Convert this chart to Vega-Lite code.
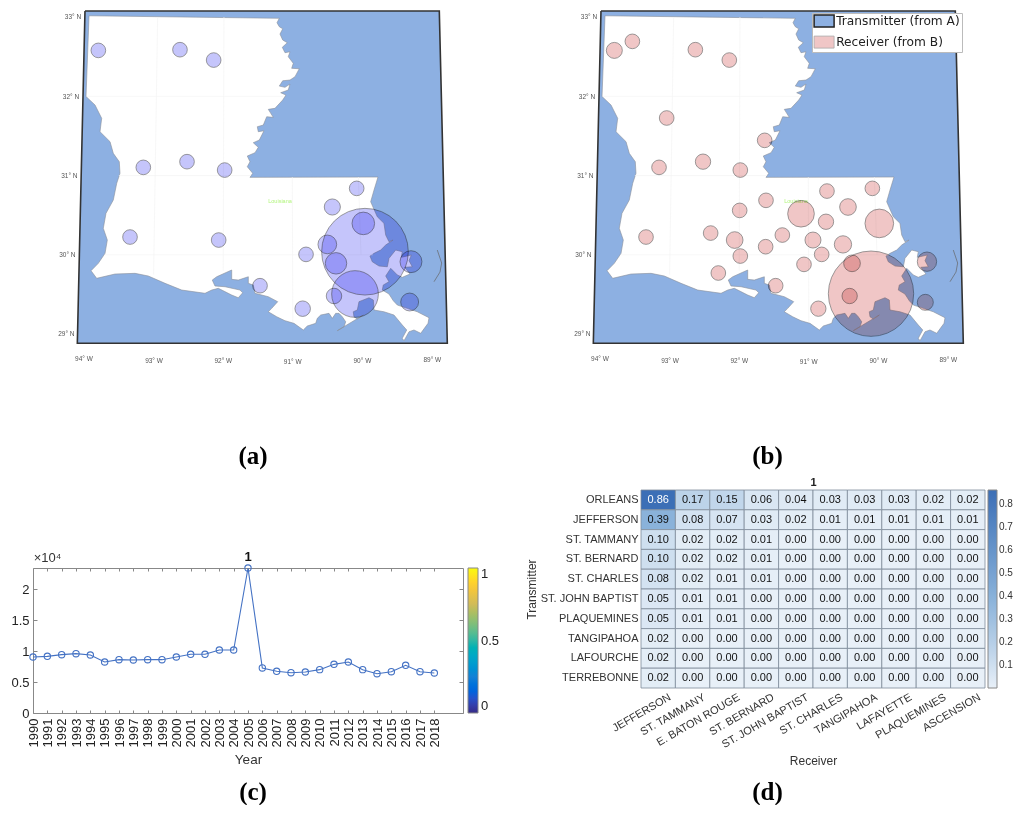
{"$schema":"https://vega.github.io/schema/vega-lite/v6.json","padding":0,"background":"white","bounds":"flush","spacing":0,"columns":2,"config":{"view":{"stroke":null},"font":"Liberation Sans"},
"datasets":{
"frame":[{"i":0,"lon":-93.986,"lat":33.076},{"i":1,"lon":-88.895,"lat":33.076},{"i":2,"lon":-88.78,"lat":28.883},{"i":3,"lon":-94.096,"lat":28.883},{"i":4,"lon":-93.986,"lat":33.076}],
"state":[{"i":0,"lon":-93.928,"lat":33.016},{"i":1,"lon":-91.194,"lat":32.984},{"i":2,"lon":-91.227,"lat":32.928},{"i":3,"lon":-91.194,"lat":32.878},{"i":4,"lon":-91.145,"lat":32.852},{"i":5,"lon":-91.184,"lat":32.785},{"i":6,"lon":-91.145,"lat":32.71},{"i":7,"lon":-91.079,"lat":32.676},{"i":8,"lon":-91.151,"lat":32.618},{"i":9,"lon":-91.112,"lat":32.55},{"i":10,"lon":-91.04,"lat":32.562},{"i":11,"lon":-91.065,"lat":32.499},{"i":12,"lon":-90.993,"lat":32.416},{"i":13,"lon":-91.016,"lat":32.353},{"i":14,"lon":-90.907,"lat":32.348},{"i":15,"lon":-90.968,"lat":32.247},{"i":16,"lon":-91.04,"lat":32.205},{"i":17,"lon":-91.145,"lat":32.196},{"i":18,"lon":-91.194,"lat":32.129},{"i":19,"lon":-91.112,"lat":32.113},{"i":20,"lon":-91.04,"lat":32.155},{"i":21,"lon":-91.065,"lat":32.079},{"i":22,"lon":-91.174,"lat":32.045},{"i":23,"lon":-91.098,"lat":32.016},{"i":24,"lon":-91.145,"lat":31.953},{"i":25,"lon":-91.256,"lat":31.848},{"i":26,"lon":-91.352,"lat":31.835},{"i":27,"lon":-91.28,"lat":31.734},{"i":28,"lon":-91.375,"lat":31.742},{"i":29,"lon":-91.424,"lat":31.637},{"i":30,"lon":-91.51,"lat":31.616},{"i":31,"lon":-91.496,"lat":31.553},{"i":32,"lon":-91.414,"lat":31.565},{"i":33,"lon":-91.481,"lat":31.448},{"i":34,"lon":-91.568,"lat":31.414},{"i":35,"lon":-91.496,"lat":31.356},{"i":36,"lon":-91.543,"lat":31.288},{"i":37,"lon":-91.654,"lat":31.246},{"i":38,"lon":-91.615,"lat":31.174},{"i":39,"lon":-91.654,"lat":31.111},{"i":40,"lon":-91.576,"lat":31.028},{"i":41,"lon":-91.615,"lat":30.977},{"i":42,"lon":-89.776,"lat":30.981},{"i":43,"lon":-89.833,"lat":30.817},{"i":44,"lon":-89.881,"lat":30.669},{"i":45,"lon":-89.786,"lat":30.48},{"i":46,"lon":-89.69,"lat":30.397},{"i":47,"lon":-89.665,"lat":30.249},{"i":48,"lon":-89.618,"lat":30.165},{"i":49,"lon":-89.56,"lat":30.186},{"i":50,"lon":-89.665,"lat":30.123},{"i":51,"lon":-89.737,"lat":30.06},{"i":52,"lon":-89.833,"lat":30.018},{"i":53,"lon":-89.891,"lat":29.984},{"i":54,"lon":-89.858,"lat":29.912},{"i":55,"lon":-89.761,"lat":29.858},{"i":56,"lon":-89.642,"lat":29.849},{"i":57,"lon":-89.618,"lat":29.955},{"i":58,"lon":-89.522,"lat":30.06},{"i":59,"lon":-89.427,"lat":30.039},{"i":60,"lon":-89.441,"lat":29.968},{"i":61,"lon":-89.297,"lat":29.997},{"i":62,"lon":-89.33,"lat":29.925},{"i":63,"lon":-89.283,"lat":29.849},{"i":64,"lon":-89.392,"lat":29.842},{"i":65,"lon":-89.316,"lat":29.757},{"i":66,"lon":-89.427,"lat":29.716},{"i":67,"lon":-89.498,"lat":29.745},{"i":68,"lon":-89.593,"lat":29.829},{"i":69,"lon":-89.665,"lat":29.732},{"i":70,"lon":-89.618,"lat":29.66},{"i":71,"lon":-89.7,"lat":29.618},{"i":72,"lon":-89.714,"lat":29.555},{"i":73,"lon":-89.618,"lat":29.505},{"i":74,"lon":-89.556,"lat":29.42},{"i":75,"lon":-89.498,"lat":29.366},{"i":76,"lon":-89.355,"lat":29.324},{"i":77,"lon":-89.211,"lat":29.281},{"i":78,"lon":-89.043,"lat":29.206},{"i":79,"lon":-89.057,"lat":29.135},{"i":80,"lon":-89.162,"lat":29.009},{"i":81,"lon":-89.259,"lat":29.051},{"i":82,"lon":-89.33,"lat":29.029},{"i":83,"lon":-89.402,"lat":28.916},{"i":84,"lon":-89.427,"lat":28.946},{"i":85,"lon":-89.363,"lat":29.051},{"i":86,"lon":-89.427,"lat":29.114},{"i":87,"lon":-89.546,"lat":29.24},{"i":88,"lon":-89.69,"lat":29.281},{"i":89,"lon":-89.833,"lat":29.303},{"i":90,"lon":-89.843,"lat":29.429},{"i":91,"lon":-89.905,"lat":29.458},{"i":92,"lon":-90.049,"lat":29.408},{"i":93,"lon":-90.073,"lat":29.303},{"i":94,"lon":-90.131,"lat":29.281},{"i":95,"lon":-90.121,"lat":29.218},{"i":96,"lon":-90.073,"lat":29.189},{"i":97,"lon":-89.987,"lat":29.24},{"i":98,"lon":-90.361,"lat":29.042},{"i":99,"lon":-90.264,"lat":29.092},{"i":100,"lon":-90.24,"lat":29.155},{"i":101,"lon":-90.289,"lat":29.218},{"i":102,"lon":-90.336,"lat":29.261},{"i":103,"lon":-90.384,"lat":29.261},{"i":104,"lon":-90.432,"lat":29.198},{"i":105,"lon":-90.48,"lat":29.261},{"i":106,"lon":-90.599,"lat":29.24},{"i":107,"lon":-90.648,"lat":29.198},{"i":108,"lon":-90.671,"lat":29.135},{"i":109,"lon":-90.792,"lat":29.101},{"i":110,"lon":-90.849,"lat":29.051},{"i":111,"lon":-90.983,"lat":29.135},{"i":112,"lon":-91.112,"lat":29.168},{"i":113,"lon":-91.231,"lat":29.218},{"i":114,"lon":-91.352,"lat":29.281},{"i":115,"lon":-91.303,"lat":29.324},{"i":116,"lon":-91.217,"lat":29.408},{"i":117,"lon":-91.352,"lat":29.471},{"i":118,"lon":-91.543,"lat":29.514},{"i":119,"lon":-91.568,"lat":29.618},{"i":120,"lon":-91.639,"lat":29.64},{"i":121,"lon":-91.639,"lat":29.723},{"i":122,"lon":-91.783,"lat":29.681},{"i":123,"lon":-91.878,"lat":29.69},{"i":124,"lon":-91.878,"lat":29.808},{"i":125,"lon":-92.093,"lat":29.723},{"i":126,"lon":-92.157,"lat":29.681},{"i":127,"lon":-92.118,"lat":29.606},{"i":128,"lon":-91.974,"lat":29.597},{"i":129,"lon":-91.759,"lat":29.555},{"i":130,"lon":-91.72,"lat":29.521},{"i":131,"lon":-91.783,"lat":29.458},{"i":132,"lon":-91.878,"lat":29.492},{"i":133,"lon":-92.07,"lat":29.577},{"i":134,"lon":-92.165,"lat":29.555},{"i":135,"lon":-92.261,"lat":29.514},{"i":136,"lon":-92.596,"lat":29.555},{"i":137,"lon":-92.836,"lat":29.64},{"i":138,"lon":-93.076,"lat":29.732},{"i":139,"lon":-93.267,"lat":29.766},{"i":140,"lon":-93.555,"lat":29.757},{"i":141,"lon":-93.818,"lat":29.703},{"i":142,"lon":-93.899,"lat":29.799},{"i":143,"lon":-93.795,"lat":29.892},{"i":144,"lon":-93.698,"lat":30.018},{"i":145,"lon":-93.665,"lat":30.186},{"i":146,"lon":-93.723,"lat":30.334},{"i":147,"lon":-93.684,"lat":30.523},{"i":148,"lon":-93.579,"lat":30.691},{"i":149,"lon":-93.53,"lat":30.902},{"i":150,"lon":-93.483,"lat":31.028},{"i":151,"lon":-93.493,"lat":31.174},{"i":152,"lon":-93.579,"lat":31.28},{"i":153,"lon":-93.626,"lat":31.427},{"i":154,"lon":-93.77,"lat":31.553},{"i":155,"lon":-93.746,"lat":31.722},{"i":156,"lon":-93.842,"lat":31.89},{"i":157,"lon":-93.971,"lat":31.997},{"i":158,"lon":-93.928,"lat":33.016}],
"arc":[{"i":0,"lon":-88.924,"lat":30.06},{"i":1,"lon":-88.861,"lat":29.896},{"i":2,"lon":-88.885,"lat":29.782},{"i":3,"lon":-88.971,"lat":29.66}],
"grid":[{"g":"m93","i":0,"lon":-92.942,"lat":33.0},{"g":"m93","i":1,"lon":-93.0,"lat":29.75},{"g":"m92","i":0,"lon":-91.989,"lat":33.0},{"g":"m92","i":1,"lon":-92.0,"lat":29.8},{"g":"m91","i":0,"lon":-91.007,"lat":30.98},{"g":"m91","i":1,"lon":-91.0,"lat":29.15},{"g":"m90","i":0,"lon":-90.058,"lat":30.98},{"g":"m90","i":1,"lon":-90.02,"lat":30.0},{"g":"p32","i":0,"lon":-93.96,"lat":32.0},{"g":"p32","i":1,"lon":-91.14,"lat":32.0},{"g":"p31","i":0,"lon":-93.5,"lat":31.0},{"g":"p31","i":1,"lon":-91.6,"lat":31.0},{"g":"p30","i":0,"lon":-93.7,"lat":30.0},{"g":"p30","i":1,"lon":-89.85,"lat":30.0}],
"ticks":[{"t":"33° N","lon":-94.158,"lat":33.0},{"t":"32° N","lon":-94.187,"lat":31.995},{"t":"31° N","lon":-94.211,"lat":30.998},{"t":"30° N","lon":-94.239,"lat":29.997},{"t":"29° N","lon":-94.254,"lat":29.0},{"t":"94° W","lon":-94.0,"lat":28.68},{"t":"93° W","lon":-92.994,"lat":28.664},{"t":"92° W","lon":-91.998,"lat":28.655},{"t":"91° W","lon":-91.002,"lat":28.651},{"t":"90° W","lon":-90.0,"lat":28.659},{"t":"89° W","lon":-88.995,"lat":28.672}],
"place":[{"t":"Louisiana","lon":-91.184,"lat":30.682}],
"transmit":[{"lon":-93.794,"lat":32.579,"v":0.0215},{"lon":-92.621,"lat":32.588,"v":0.0215},{"lon":-92.137,"lat":32.457,"v":0.0215},{"lon":-93.148,"lat":31.103,"v":0.0215},{"lon":-92.52,"lat":31.175,"v":0.0215},{"lon":-91.979,"lat":31.069,"v":0.0215},{"lon":-90.082,"lat":30.838,"v":0.0215},{"lon":-90.432,"lat":30.603,"v":0.026},{"lon":-89.987,"lat":30.396,"v":0.051},{"lon":-93.339,"lat":30.224,"v":0.0215},{"lon":-92.065,"lat":30.186,"v":0.0215},{"lon":-90.504,"lat":30.131,"v":0.035},{"lon":-90.81,"lat":30.005,"v":0.0215},{"lon":-90.379,"lat":29.892,"v":0.046},{"lon":-89.963,"lat":30.039,"v":0.751},{"lon":-90.106,"lat":29.505,"v":0.218},{"lon":-90.408,"lat":29.48,"v":0.024},{"lon":-91.471,"lat":29.61,"v":0.0215},{"lon":-90.858,"lat":29.32,"v":0.024},{"lon":-89.302,"lat":29.913,"v":0.048},{"lon":-89.321,"lat":29.404,"v":0.032}],
"receive":[{"lon":-93.794,"lat":32.579,"v":0.0256},{"lon":-93.535,"lat":32.693,"v":0.0215},{"lon":-92.63,"lat":32.588,"v":0.0215},{"lon":-92.142,"lat":32.457,"v":0.0215},{"lon":-93.042,"lat":31.726,"v":0.0215},{"lon":-91.634,"lat":31.444,"v":0.0215},{"lon":-93.152,"lat":31.103,"v":0.0215},{"lon":-92.52,"lat":31.175,"v":0.0235},{"lon":-91.984,"lat":31.069,"v":0.0215},{"lon":-90.739,"lat":30.804,"v":0.0215},{"lon":-90.087,"lat":30.838,"v":0.0215},{"lon":-91.615,"lat":30.687,"v":0.0215},{"lon":-91.993,"lat":30.56,"v":0.0215},{"lon":-91.112,"lat":30.518,"v":0.0711},{"lon":-90.437,"lat":30.603,"v":0.0278},{"lon":-90.753,"lat":30.417,"v":0.0235},{"lon":-89.987,"lat":30.396,"v":0.0822},{"lon":-93.339,"lat":30.224,"v":0.0215},{"lon":-92.41,"lat":30.274,"v":0.0215},{"lon":-91.38,"lat":30.249,"v":0.0215},{"lon":-92.065,"lat":30.186,"v":0.0278},{"lon":-90.94,"lat":30.186,"v":0.0256},{"lon":-90.509,"lat":30.131,"v":0.03},{"lon":-91.62,"lat":30.102,"v":0.0215},{"lon":-91.984,"lat":29.984,"v":0.0215},{"lon":-90.815,"lat":30.005,"v":0.0215},{"lon":-91.069,"lat":29.879,"v":0.0215},{"lon":-92.3,"lat":29.77,"v":0.0215},{"lon":-91.476,"lat":29.61,"v":0.0215},{"lon":-90.863,"lat":29.32,"v":0.0235},{"lon":-90.106,"lat":29.509,"v":0.728},{"lon":-90.379,"lat":29.892,"v":0.0278},{"lon":-90.413,"lat":29.48,"v":0.0235},{"lon":-89.302,"lat":29.913,"v":0.0374},{"lon":-89.326,"lat":29.4,"v":0.0256}],
"series":[{"series":"Transmitter (from A)"},{"series":"Receiver (from B)"}],
"peak":[{"year":2005,"value":23450,"label":"1"}],
"yearly":[{"year":1990,"value":9056,"share":0.39},{"year":1991,"value":9164,"share":0.39},{"year":1992,"value":9434,"share":0.4},{"year":1993,"value":9596,"share":0.41},{"year":1994,"value":9380,"share":0.4},{"year":1995,"value":8248,"share":0.35},{"year":1996,"value":8625,"share":0.37},{"year":1997,"value":8570,"share":0.37},{"year":1998,"value":8625,"share":0.37},{"year":1999,"value":8625,"share":0.37},{"year":2000,"value":9056,"share":0.39},{"year":2001,"value":9490,"share":0.4},{"year":2002,"value":9490,"share":0.4},{"year":2003,"value":10190,"share":0.43},{"year":2004,"value":10190,"share":0.43},{"year":2005,"value":23450,"share":1},{"year":2006,"value":7280,"share":0.31},{"year":2007,"value":6740,"share":0.29},{"year":2008,"value":6520,"share":0.28},{"year":2009,"value":6630,"share":0.28},{"year":2010,"value":7010,"share":0.3},{"year":2011,"value":7870,"share":0.34},{"year":2012,"value":8250,"share":0.35},{"year":2013,"value":7010,"share":0.3},{"year":2014,"value":6360,"share":0.27},{"year":2015,"value":6680,"share":0.28},{"year":2016,"value":7710,"share":0.33},{"year":2017,"value":6680,"share":0.28},{"year":2018,"value":6470,"share":0.28}],
"matrix":[{"t":"ORLEANS","r":"JEFFERSON","v":0.86},{"t":"ORLEANS","r":"ST. TAMMANY","v":0.17},{"t":"ORLEANS","r":"E. BATON ROUGE","v":0.15},{"t":"ORLEANS","r":"ST. BERNARD","v":0.06},{"t":"ORLEANS","r":"ST. JOHN BAPTIST","v":0.04},{"t":"ORLEANS","r":"ST. CHARLES","v":0.03},{"t":"ORLEANS","r":"TANGIPAHOA","v":0.03},{"t":"ORLEANS","r":"LAFAYETTE","v":0.03},{"t":"ORLEANS","r":"PLAQUEMINES","v":0.02},{"t":"ORLEANS","r":"ASCENSION","v":0.02},
{"t":"JEFFERSON","r":"JEFFERSON","v":0.39},{"t":"JEFFERSON","r":"ST. TAMMANY","v":0.08},{"t":"JEFFERSON","r":"E. BATON ROUGE","v":0.07},{"t":"JEFFERSON","r":"ST. BERNARD","v":0.03},{"t":"JEFFERSON","r":"ST. JOHN BAPTIST","v":0.02},{"t":"JEFFERSON","r":"ST. CHARLES","v":0.01},{"t":"JEFFERSON","r":"TANGIPAHOA","v":0.01},{"t":"JEFFERSON","r":"LAFAYETTE","v":0.01},{"t":"JEFFERSON","r":"PLAQUEMINES","v":0.01},{"t":"JEFFERSON","r":"ASCENSION","v":0.01},
{"t":"ST. TAMMANY","r":"JEFFERSON","v":0.10},{"t":"ST. TAMMANY","r":"ST. TAMMANY","v":0.02},{"t":"ST. TAMMANY","r":"E. BATON ROUGE","v":0.02},{"t":"ST. TAMMANY","r":"ST. BERNARD","v":0.01},{"t":"ST. TAMMANY","r":"ST. JOHN BAPTIST","v":0},{"t":"ST. TAMMANY","r":"ST. CHARLES","v":0},{"t":"ST. TAMMANY","r":"TANGIPAHOA","v":0},{"t":"ST. TAMMANY","r":"LAFAYETTE","v":0},{"t":"ST. TAMMANY","r":"PLAQUEMINES","v":0},{"t":"ST. TAMMANY","r":"ASCENSION","v":0},
{"t":"ST. BERNARD","r":"JEFFERSON","v":0.10},{"t":"ST. BERNARD","r":"ST. TAMMANY","v":0.02},{"t":"ST. BERNARD","r":"E. BATON ROUGE","v":0.02},{"t":"ST. BERNARD","r":"ST. BERNARD","v":0.01},{"t":"ST. BERNARD","r":"ST. JOHN BAPTIST","v":0},{"t":"ST. BERNARD","r":"ST. CHARLES","v":0},{"t":"ST. BERNARD","r":"TANGIPAHOA","v":0},{"t":"ST. BERNARD","r":"LAFAYETTE","v":0},{"t":"ST. BERNARD","r":"PLAQUEMINES","v":0},{"t":"ST. BERNARD","r":"ASCENSION","v":0},
{"t":"ST. CHARLES","r":"JEFFERSON","v":0.08},{"t":"ST. CHARLES","r":"ST. TAMMANY","v":0.02},{"t":"ST. CHARLES","r":"E. BATON ROUGE","v":0.01},{"t":"ST. CHARLES","r":"ST. BERNARD","v":0.01},{"t":"ST. CHARLES","r":"ST. JOHN BAPTIST","v":0},{"t":"ST. CHARLES","r":"ST. CHARLES","v":0},{"t":"ST. CHARLES","r":"TANGIPAHOA","v":0},{"t":"ST. CHARLES","r":"LAFAYETTE","v":0},{"t":"ST. CHARLES","r":"PLAQUEMINES","v":0},{"t":"ST. CHARLES","r":"ASCENSION","v":0},
{"t":"ST. JOHN BAPTIST","r":"JEFFERSON","v":0.05},{"t":"ST. JOHN BAPTIST","r":"ST. TAMMANY","v":0.01},{"t":"ST. JOHN BAPTIST","r":"E. BATON ROUGE","v":0.01},{"t":"ST. JOHN BAPTIST","r":"ST. BERNARD","v":0},{"t":"ST. JOHN BAPTIST","r":"ST. JOHN BAPTIST","v":0},{"t":"ST. JOHN BAPTIST","r":"ST. CHARLES","v":0},{"t":"ST. JOHN BAPTIST","r":"TANGIPAHOA","v":0},{"t":"ST. JOHN BAPTIST","r":"LAFAYETTE","v":0},{"t":"ST. JOHN BAPTIST","r":"PLAQUEMINES","v":0},{"t":"ST. JOHN BAPTIST","r":"ASCENSION","v":0},
{"t":"PLAQUEMINES","r":"JEFFERSON","v":0.05},{"t":"PLAQUEMINES","r":"ST. TAMMANY","v":0.01},{"t":"PLAQUEMINES","r":"E. BATON ROUGE","v":0.01},{"t":"PLAQUEMINES","r":"ST. BERNARD","v":0},{"t":"PLAQUEMINES","r":"ST. JOHN BAPTIST","v":0},{"t":"PLAQUEMINES","r":"ST. CHARLES","v":0},{"t":"PLAQUEMINES","r":"TANGIPAHOA","v":0},{"t":"PLAQUEMINES","r":"LAFAYETTE","v":0},{"t":"PLAQUEMINES","r":"PLAQUEMINES","v":0},{"t":"PLAQUEMINES","r":"ASCENSION","v":0},
{"t":"TANGIPAHOA","r":"JEFFERSON","v":0.02},{"t":"TANGIPAHOA","r":"ST. TAMMANY","v":0},{"t":"TANGIPAHOA","r":"E. BATON ROUGE","v":0},{"t":"TANGIPAHOA","r":"ST. BERNARD","v":0},{"t":"TANGIPAHOA","r":"ST. JOHN BAPTIST","v":0},{"t":"TANGIPAHOA","r":"ST. CHARLES","v":0},{"t":"TANGIPAHOA","r":"TANGIPAHOA","v":0},{"t":"TANGIPAHOA","r":"LAFAYETTE","v":0},{"t":"TANGIPAHOA","r":"PLAQUEMINES","v":0},{"t":"TANGIPAHOA","r":"ASCENSION","v":0},
{"t":"LAFOURCHE","r":"JEFFERSON","v":0.02},{"t":"LAFOURCHE","r":"ST. TAMMANY","v":0},{"t":"LAFOURCHE","r":"E. BATON ROUGE","v":0},{"t":"LAFOURCHE","r":"ST. BERNARD","v":0},{"t":"LAFOURCHE","r":"ST. JOHN BAPTIST","v":0},{"t":"LAFOURCHE","r":"ST. CHARLES","v":0},{"t":"LAFOURCHE","r":"TANGIPAHOA","v":0},{"t":"LAFOURCHE","r":"LAFAYETTE","v":0},{"t":"LAFOURCHE","r":"PLAQUEMINES","v":0},{"t":"LAFOURCHE","r":"ASCENSION","v":0},
{"t":"TERREBONNE","r":"JEFFERSON","v":0.02},{"t":"TERREBONNE","r":"ST. TAMMANY","v":0},{"t":"TERREBONNE","r":"E. BATON ROUGE","v":0},{"t":"TERREBONNE","r":"ST. BERNARD","v":0},{"t":"TERREBONNE","r":"ST. JOHN BAPTIST","v":0},{"t":"TERREBONNE","r":"ST. CHARLES","v":0},{"t":"TERREBONNE","r":"TANGIPAHOA","v":0},{"t":"TERREBONNE","r":"LAFAYETTE","v":0},{"t":"TERREBONNE","r":"PLAQUEMINES","v":0},{"t":"TERREBONNE","r":"ASCENSION","v":0}]
},
"concat":[
{"width":516,"height":490,
 "title":{"text":"(a)","orient":"bottom","font":"Liberation Serif","fontWeight":"bold","fontSize":25,"color":"#000","offset":-46,"dx":-5},
 "encoding":{"x":{"field":"lon","type":"quantitative","axis":null,"scale":{"domain":[-95.207,-87.793],"nice":false,"zero":false}},"y":{"field":"lat","type":"quantitative","axis":null,"scale":{"domain":[27.032,33.215],"nice":false,"zero":false}}},
 "layer":[
 {"data":{"name":"frame"},"mark":{"type":"line","fill":"#8db0e2","stroke":"#333","strokeWidth":1.6},"encoding":{"order":{"field":"i"}}},
 {"data":{"name":"state"},"mark":{"type":"line","fill":"#ffffff","stroke":"#8a8f99","strokeWidth":0.6},"encoding":{"order":{"field":"i"}}},
 {"data":{"name":"arc"},"mark":{"type":"line","stroke":"#666","strokeWidth":0.7},"encoding":{"order":{"field":"i"}}},
 {"data":{"name":"grid"},"mark":{"type":"line","stroke":"#f3f3f3","strokeWidth":0.7},"encoding":{"detail":{"field":"g"},"order":{"field":"i"}}},
 {"data":{"name":"ticks"},"mark":{"type":"text","fontSize":6.5,"color":"#555"},"encoding":{"text":{"field":"t"}}},
 {"data":{"name":"place"},"mark":{"type":"text","fontSize":5.5,"color":"#b4f580"},"encoding":{"text":{"field":"t"}}},
 {"data":{"name":"transmit"},"mark":{"type":"point","filled":true,"fill":"#c5c5fb","fillOpacity":1,"stroke":"#777","strokeOpacity":0.9,"strokeWidth":0.8,"blend":"multiply"},"encoding":{"size":{"field":"v","type":"quantitative","legend":null,"scale":{"type":"linear","domain":[0,1],"range":[0,10000]}}}}
 ]},
{"width":497,"height":490,
 "title":{"text":"(b)","orient":"bottom","font":"Liberation Serif","fontWeight":"bold","fontSize":25,"color":"#000","offset":-46,"dx":3},
 "encoding":{"x":{"field":"lon","type":"quantitative","axis":null,"scale":{"domain":[-95.207,-88.066],"nice":false,"zero":false}},"y":{"field":"lat","type":"quantitative","axis":null,"scale":{"domain":[27.032,33.215],"nice":false,"zero":false}}},
 "layer":[
 {"data":{"name":"frame"},"mark":{"type":"line","fill":"#8db0e2","stroke":"#333","strokeWidth":1.6},"encoding":{"order":{"field":"i"}}},
 {"data":{"name":"state"},"mark":{"type":"line","fill":"#ffffff","stroke":"#8a8f99","strokeWidth":0.6},"encoding":{"order":{"field":"i"}}},
 {"data":{"name":"arc"},"mark":{"type":"line","stroke":"#666","strokeWidth":0.7},"encoding":{"order":{"field":"i"}}},
 {"data":{"name":"grid"},"mark":{"type":"line","stroke":"#f3f3f3","strokeWidth":0.7},"encoding":{"detail":{"field":"g"},"order":{"field":"i"}}},
 {"data":{"name":"ticks"},"mark":{"type":"text","fontSize":6.5,"color":"#555"},"encoding":{"text":{"field":"t"}}},
 {"data":{"name":"place"},"mark":{"type":"text","fontSize":5.5,"color":"#b4f580"},"encoding":{"text":{"field":"t"}}},
 {"data":{"name":"receive"},"mark":{"type":"point","filled":true,"fill":"#f0c6c6","fillOpacity":1,"stroke":"#777","strokeOpacity":0.9,"strokeWidth":0.8,"blend":"multiply"},"encoding":{"size":{"field":"v","type":"quantitative","legend":null,"scale":{"type":"linear","domain":[0,1],"range":[0,10000]}}}},
 {"data":{"name":"series"},"mark":{"type":"point","filled":true,"size":0},"encoding":{"x":{"value":0},"y":{"value":0},
   "fill":{"field":"series","type":"nominal","sort":null,"scale":{"domain":["Transmitter (from A)","Receiver (from B)"],"range":["#8db0e2","#f0c6c6"]},"legend":{"title":null,"orient":"none","legendX":296,"legendY":13,"fillColor":"white","strokeColor":"#bbb","padding":2,"labelFont":"DejaVu Sans","labelFontSize":12.2,"labelColor":"#222","symbolType":"M-1,-0.6H1V0.6H-1Z","symbolSize":400,"symbolOpacity":1,"symbolOffset":4,"rowPadding":3,"labelOffset":6,"encode":{"symbols":{"update":{"stroke":{"signal":"datum.value==='Transmitter (from A)'?'#222':'#aaa'"},"strokeWidth":{"signal":"datum.value==='Transmitter (from A)'?1.5:0.8"}}}}}}}}
 ]},
{"width":516,"height":290,
 "title":{"text":"(c)","orient":"bottom","font":"Liberation Serif","fontWeight":"bold","fontSize":25,"color":"#000","offset":0,"dx":-5},
 "resolve":{"axis":{"x":"independent","y":"independent"}},
 "layer":[
 {"data":{"name":"yearly"},"mark":{"type":"rect","width":0,"height":0,"strokeWidth":0,"fillOpacity":0},
  "encoding":{"x":{"field":"year","type":"quantitative","scale":{"domain":[1990,2020],"range":[33,463],"nice":false,"zero":false},
     "axis":{"orient":"top","offset":-78,"title":null,"labels":false,"values":[1990,1991,1992,1993,1994,1995,1996,1997,1998,1999,2000,2001,2002,2003,2004,2005,2006,2007,2008,2009,2010,2011,2012,2013,2014,2015,2016,2017,2018],"tickSize":-3,"tickColor":"#888","domainColor":"#888","grid":false}},
    "y":{"field":"value","type":"quantitative","scale":{"domain":[0,23450],"range":[223,78],"nice":false,"zero":false},
     "axis":{"orient":"right","offset":-53,"title":null,"labels":false,"values":[0,5000,10000,15000,20000],"tickSize":-4,"tickColor":"#888","domainColor":"#888","grid":false}},
    "fill":{"field":"share","type":"quantitative","scale":{"domain":[0,0.125,0.25,0.375,0.5,0.625,0.75,0.875,1],"range":["#352a87","#0f5cdd","#1481d6","#06a4ca","#2eb7a4","#87bf77","#d1bb59","#fec832","#f9fb0e"]},
     "legend":{"title":null,"orient":"none","legendX":468,"legendY":78,"gradientLength":145,"gradientThickness":10,"values":[0,0.5,1],"format":"~g","labelFontSize":13,"labelColor":"#222","gradientStrokeColor":"#888","gradientStrokeWidth":1,"labelOffset":3}}}},
 {"data":{"name":"yearly"},"mark":{"type":"line","color":"#4472c4","strokeWidth":1.1,"point":{"filled":false,"fill":"transparent","stroke":"#4472c4","size":40,"strokeWidth":1.1}},
  "encoding":{"x":{"field":"year","type":"quantitative","scale":{"domain":[1990,2020],"range":[33,463],"nice":false,"zero":false},
     "axis":{"orient":"bottom","offset":-67,"title":"Year","titleFontSize":13.5,"titleFontWeight":"normal","titleColor":"#333","titlePadding":6,"values":[1990,1991,1992,1993,1994,1995,1996,1997,1998,1999,2000,2001,2002,2003,2004,2005,2006,2007,2008,2009,2010,2011,2012,2013,2014,2015,2016,2017,2018],"format":"d","labelAngle":-90,"labelAlign":"right","labelBaseline":"middle","labelFontSize":13,"labelColor":"#222","labelPadding":8,"labelOverlap":false,"labelFlush":false,"tickSize":-3,"tickColor":"#888","domainColor":"#888","grid":false}},
    "y":{"field":"value","type":"quantitative","scale":{"domain":[0,23450],"range":[223,78],"nice":false,"zero":false},
     "axis":{"orient":"left","offset":-33,"values":[0,5000,10000,15000,20000],"labelExpr":"datum.value/10000","labelFontSize":13,"labelColor":"#222","labelPadding":8,"tickSize":-4,"tickColor":"#888","domainColor":"#888","grid":false,"title":"×10⁴","titleAngle":0,"titleFontSize":13,"titleFontWeight":"normal","titleColor":"#333","titleX":14,"titleY":74,"titleAlign":"center","titleBaseline":"bottom"}}}},
 {"data":{"name":"peak"},"mark":{"type":"text","fontSize":13,"fontWeight":"bold","color":"#111","dy":-11},
  "encoding":{"text":{"field":"label"},"x":{"field":"year","type":"quantitative","axis":null,"scale":{"domain":[1990,2020],"range":[33,463],"nice":false,"zero":false}},"y":{"field":"value","type":"quantitative","axis":null,"scale":{"domain":[0,23450],"range":[223,78],"nice":false,"zero":false}}}}
 ]},
{"width":497,"height":290,
 "title":{"text":"(d)","orient":"bottom","font":"Liberation Serif","fontWeight":"bold","fontSize":25,"color":"#000","offset":0,"dx":3},
 "data":{"name":"matrix"},
 "resolve":{"axis":{"x":"independent","y":"independent"}},
 "layer":[
 {"mark":{"type":"rect","stroke":"#7d8a99","strokeWidth":0.8},
  "encoding":{"x":{"field":"r","type":"nominal","sort":["JEFFERSON","ST. TAMMANY","E. BATON ROUGE","ST. BERNARD","ST. JOHN BAPTIST","ST. CHARLES","TANGIPAHOA","LAFAYETTE","PLAQUEMINES","ASCENSION"],"scale":{"type":"band","range":[125,469],"paddingInner":0,"paddingOuter":0},
     "axis":{"orient":"bottom","offset":-92,"title":"Receiver","titleFontSize":12,"titleFontWeight":"normal","titleColor":"#333","titlePadding":6,"labelAngle":-30,"labelAlign":"right","labelBaseline":"top","labelFontSize":11,"labelColor":"#333","labelOffset":9,"labelPadding":3,"ticks":false,"domain":false,"labelOverlap":false}},
    "y":{"field":"t","type":"nominal","sort":["ORLEANS","JEFFERSON","ST. TAMMANY","ST. BERNARD","ST. CHARLES","ST. JOHN BAPTIST","PLAQUEMINES","TANGIPAHOA","LAFOURCHE","TERREBONNE"],"scale":{"type":"band","range":[0,198],"paddingInner":0,"paddingOuter":0},
     "axis":{"orient":"left","offset":-125,"title":"Transmitter","titleFontSize":12,"titleFontWeight":"normal","titleColor":"#333","titlePadding":2,"labelFontSize":11,"labelColor":"#333","labelPadding":3,"ticks":false,"domain":false}},
    "fill":{"field":"v","type":"quantitative","scale":{"domain":[0,0.17,0.39,0.86],"range":["#e8f0f8","#bcd3e9","#8ab2da","#3c6fb6"]},
     "legend":{"title":null,"orient":"none","legendX":472,"legendY":0,"gradientLength":198,"gradientThickness":9,"values":[0.1,0.2,0.3,0.4,0.5,0.6,0.7,0.8],"labelFontSize":10,"labelColor":"#333","gradientStrokeColor":"#888","gradientStrokeWidth":1,"labelOffset":2}}}},
 {"mark":{"type":"text","fontSize":11},
  "encoding":{"x":{"field":"r","type":"nominal","sort":["JEFFERSON","ST. TAMMANY","E. BATON ROUGE","ST. BERNARD","ST. JOHN BAPTIST","ST. CHARLES","TANGIPAHOA","LAFAYETTE","PLAQUEMINES","ASCENSION"],"scale":{"type":"band","range":[125,469],"paddingInner":0,"paddingOuter":0},
     "axis":{"orient":"top","title":"1","titleFontSize":11,"titleFontWeight":"bold","titleColor":"#222","titlePadding":3,"labels":false,"ticks":false,"domain":false}},
    "y":{"field":"t","type":"nominal","sort":["ORLEANS","JEFFERSON","ST. TAMMANY","ST. BERNARD","ST. CHARLES","ST. JOHN BAPTIST","PLAQUEMINES","TANGIPAHOA","LAFOURCHE","TERREBONNE"],"axis":null},
    "text":{"field":"v","type":"quantitative","format":".2f"},
    "color":{"condition":{"test":"datum.v>0.6","value":"#ffffff"},"value":"#111111"}}}
 ]}
]}
